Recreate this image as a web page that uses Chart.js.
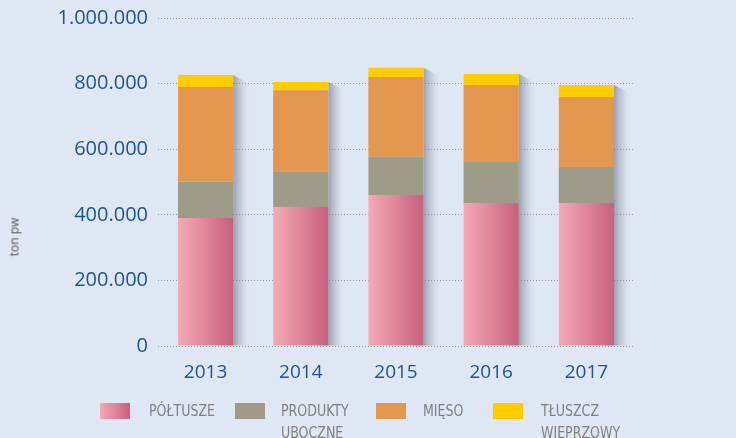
<!DOCTYPE html>
<html>
<head>
<meta charset="utf-8">
<script src="https://cdn.jsdelivr.net/npm/chart.js@4"></script>
<style>
  html, body { margin: 0; padding: 0; background: #dfe6f4; }
  #wrap { position: relative; width: 736px; height: 438px; overflow: hidden; }
  #chart { position: absolute; left: 0; top: 0; }
  .ytitle {
    position: absolute; left: 14px; top: 237px;
    transform: translate(-50%, -50%) rotate(-90deg);
    font: 12px "Open Sans", sans-serif; color: #555; white-space: nowrap;
  }
  .sw { position: absolute; width: 30px; height: 16px; top: 403px; }
  .lb {
    position: absolute; top: 400px;
    font-family: "Liberation Sans Narrow", "DejaVu Sans Condensed", sans-serif;
    font-stretch: condensed; font-size: 14px; line-height: 19px; color: #808080;
    transform: scaleY(1.16); transform-origin: 0 0;
  }
</style>
</head>
<body>
<div id="wrap">
  <canvas id="chart" width="736" height="438"></canvas>
  <div class="ytitle">ton pw</div>
  <div id="legend"></div>
</div>
<script>
const years = ["2013", "2014", "2015", "2016", "2017"];
const seriesNames = ["PÓŁTUSZE", "PRODUKTY\nUBOCZNE", "MIĘSO", "TŁUSZCZ\nWIEPRZOWY"];
// ton pw
const poltusze = [390000, 424000, 460000, 436000, 436000];
const produkty = [111000, 109000, 117000, 125000, 110000];
const mieso    = [289000, 247000, 243000, 235000, 213000];
const tluszcz  = [36000, 25000, 28000, 33000, 37000];
const yTicks = [0, 200000, 400000, 600000, 800000, 1000000];

const colors = ["#c8607e", "#9e9c88", "#e39650", "#ffcc00"];
const pinkLeft = "#f4aab6";
const barPct = 0.58;

function el(id){ return document.getElementById(id); }

function fmt(v) {
  return String(v).replace(/\B(?=(\d{3})+(?!\d))/g, ".");
}

function pinkFill(ctx) {
  const chart = ctx.chart;
  const area = chart.chartArea;
  if (!area) return colors[0];
  const xs = chart.scales.x;
  const c = xs.getPixelForValue(ctx.dataIndex);
  const w = area.width / years.length * barPct;
  const g = chart.ctx.createLinearGradient(c - w / 2, 0, c + w / 2, 0);
  g.addColorStop(0, pinkLeft);
  g.addColorStop(1, colors[0]);
  return g;
}

// drop shadow on the right of each stacked column
const shadowPlugin = {
  id: "colShadow",
  beforeDatasetsDraw(chart) {
    const ctx = chart.ctx;
    const top = chart.getDatasetMeta(3).data;
    const bottom = chart.getDatasetMeta(0).data;
    top.forEach((bar, i) => {
      const r = bar.x + bar.width / 2;
      const yTop = bar.y;
      const yBot = bottom[i].base;
      const sw = 17;
      ctx.save();
      const g = ctx.createLinearGradient(r, 0, r + sw, 0);
      g.addColorStop(0, "rgba(95,100,115,0.55)");
      g.addColorStop(0.5, "rgba(150,155,170,0.3)");
      g.addColorStop(1, "rgba(223,230,244,0)");
      ctx.fillStyle = g;
      ctx.beginPath();
      ctx.moveTo(r, yTop);
      ctx.lineTo(r + 4, yTop + 2);
      ctx.lineTo(r + sw, yTop + 9);
      ctx.lineTo(r + sw, yBot);
      ctx.lineTo(r, yBot);
      ctx.closePath();
      ctx.fill();
      ctx.restore();
    });
  }
};

const data = [poltusze, produkty, mieso, tluszcz];

new Chart(el("chart"), {
  type: "bar",
  data: {
    labels: years,
    datasets: data.map((d, i) => ({
      label: seriesNames[i],
      data: d,
      backgroundColor: i === 0 ? pinkFill : colors[i],
      borderWidth: 0,
      categoryPercentage: 1,
      barPercentage: barPct
    }))
  },
  options: {
    responsive: false,
    animation: false,
    layout: { padding: { top: 18, right: 102, bottom: 0, left: 0 } },
    plugins: { legend: { display: false }, tooltip: { enabled: false } },
    scales: {
      x: {
        stacked: true,
        afterFit(s) { s.height = 92; },
        grid: { display: false },
        border: { display: false },
        ticks: {
          color: "#1c5592",
          font: { family: "Open Sans", size: 19 },
          padding: 7
        }
      },
      y: {
        stacked: true,
        min: 0,
        max: 1000000,
        afterFit(s) { s.width = 158; s.paddingTop = 0; s.paddingBottom = 0; },
        afterBuildTicks(s) { s.ticks = yTicks.map(v => ({ value: v })); },
        grid: {
          color: "#9a9a9a",
          drawTicks: false
        },
        border: { display: false, dash: [1, 2] },
        ticks: {
          color: "#1c5592",
          font: { family: "Open Sans", size: 20 },
          padding: 10,
          callback: v => fmt(v)
        }
      }
    }
  },
  plugins: [shadowPlugin]
});

// legend
const swX = [100, 235, 376, 493];
const lbX = [149, 281, 423, 541];
const legend = el("legend");
seriesNames.forEach((name, i) => {
  const sw = document.createElement("div");
  sw.className = "sw";
  sw.style.left = swX[i] + "px";
  sw.style.background = i === 0 ? `linear-gradient(90deg, ${pinkLeft}, ${colors[0]})` : colors[i];
  legend.appendChild(sw);
  const lb = document.createElement("div");
  lb.className = "lb";
  lb.style.left = lbX[i] + "px";
  lb.innerHTML = name.split("\n").join("<br>");
  legend.appendChild(lb);
});
</script>
</body>
</html>
